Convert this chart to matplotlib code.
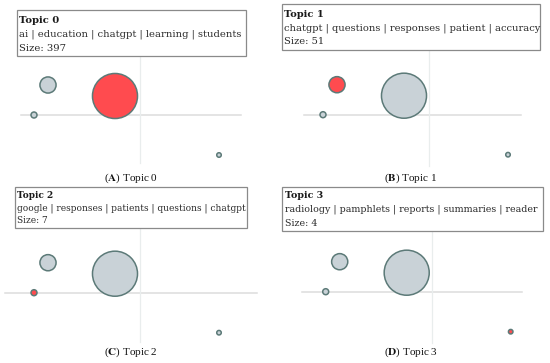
"""Intertopic distance map, four panels each highlighting one topic."""

import matplotlib.pyplot as plt
from matplotlib.patches import Rectangle

W, H = 550, 363

topics = ["Topic 0", "Topic 1", "Topic 2", "Topic 3"]
keywords = [
    "ai | education | chatgpt | learning | students",
    "chatgpt | questions | responses | patient | accuracy",
    "google | responses | patients | questions | chatgpt",
    "radiology | pamphlets | reports | summaries | reader",
]
sizes = [397, 51, 7, 4]
# 2-D topic coordinates on the map
xs = [-2.5, -9.2, -10.6, 7.9]
ys = [1.9, 3.0, 0.0, -4.0]
letters = ["A", "B", "C", "D"]

grey = "#c9d2d7"
edge = "#5c7a78"
red = "#ff4b4f"
axis_grey = "#dcdcdc"

plt.rcParams["mathtext.fontset"] = "stix"

# panel layout in pixels: region, map origin, axis-line extents, hover box,
# text left / right edge, line centres, caption centre
panels = [
    dict(region=(0, 0, 275, 181), origin=(140, 115), hline=(21, 241), vline=(56, 163),
         box=(17, 10, 246, 56), tx=(19, 243), lines=(20.7, 34.3, 48.3), cap=(131, 178)),
    dict(region=(275, 0, 275, 181), origin=(429, 114.7), hline=(304, 521), vline=(50, 166),
         box=(282, 4, 540, 50), tx=(284, 539), lines=(14.3, 28, 42), cap=(411, 178)),
    dict(region=(0, 181, 275, 182), origin=(140, 292.7), hline=(5, 257), vline=(228, 341.7),
         box=(15, 187, 247, 228), tx=(17, 243.5), lines=(195.7, 208, 220.7), cap=(131, 352)),
    dict(region=(275, 181, 275, 182), origin=(431.7, 291.7), hline=(302, 522), vline=(230, 343),
         box=(282, 186.7, 543, 230.7), tx=(285, 539), lines=(195.3, 209, 223.3), cap=(411, 352)),
]
scale = 10.0  # pixels per map unit

fig = plt.figure(figsize=(W / 100, H / 100), dpi=100)
fig.patch.set_facecolor("white")
renderer = fig.canvas.get_renderer()


def fx(x):
    return x / W


def fy(y):
    return 1 - y / H


for i, p in enumerate(panels):
    x0, y0, w, h = p["region"]
    cx, cy = p["origin"]
    ax = fig.add_axes([fx(x0), fy(y0 + h), w / W, h / H])
    ax.set_xlim((x0 - cx) / scale, (x0 + w - cx) / scale)
    ax.set_ylim((cy - (y0 + h)) / scale, (cy - y0) / scale)
    ax.axis("off")

    l, r = p["hline"]
    ax.plot([(l - cx) / scale, (r - cx) / scale], [0, 0], color=axis_grey, lw=1.1, zorder=1)
    t, b = p["vline"]
    ax.plot([0, 0], [(cy - t) / scale, (cy - b) / scale], color="#e9eded", lw=0.9, zorder=1)

    colors = [red if j == i else grey for j in range(len(topics))]
    ax.scatter(xs, ys, s=[2.65 * v for v in sizes], c=colors, edgecolors=edge,
               linewidths=1.1, zorder=3, clip_on=False)

    bx0, by0, bx1, by1 = p["box"]
    fig.patches.append(Rectangle((fx(bx0), fy(by1)), (bx1 - bx0) / W, (by1 - by0) / H,
                                 transform=fig.transFigure, facecolor="white",
                                 edgecolor="#8a8a8a", lw=0.9, zorder=5))
    l1, l2, l3 = p["lines"]
    left, right = p["tx"]
    fs = 7.0
    kw = dict(family="DejaVu Serif", va="center", ha="left", zorder=6)
    t1 = fig.text(fx(left), fy(l1), topics[i], fontsize=fs, fontweight="bold",
                  color="#1a1a1a", **kw)
    t2 = fig.text(fx(left), fy(l2), keywords[i], fontsize=fs, color="#2a2a2a", **kw)
    t3 = fig.text(fx(left), fy(l3), f"Size: {sizes[i]}", fontsize=fs, color="#2a2a2a", **kw)
    # fit the keyword line to the hover box width
    width = t2.get_window_extent(renderer=renderer).width
    fit = fs * (right - left) / width
    for tt in (t1, t2, t3):
        tt.set_fontsize(fit)

    capx, capy = p["cap"]
    fig.text(fx(capx), fy(capy), rf"($\mathbf{{{letters[i]}}}$) {topics[i]}",
             fontsize=8, family="Liberation Serif", ha="center", va="center",
             color="#111111")

fig.savefig("out.png", dpi=100)
